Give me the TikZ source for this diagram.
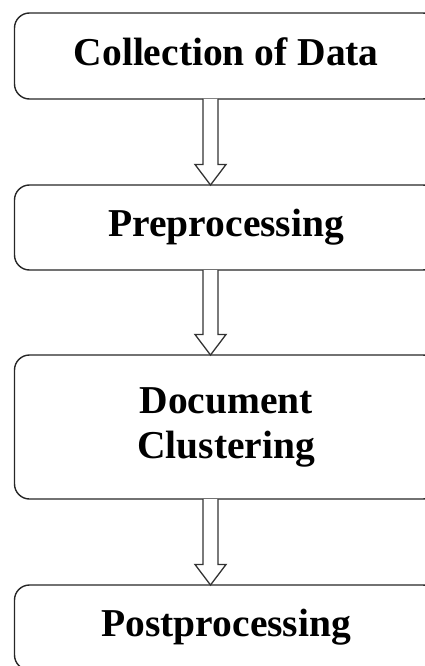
\documentclass[tikz,border=0pt]{standalone}
\usepackage{fontspec}
\setmainfont{Liberation Serif}
\usetikzlibrary{calc}
\tikzset{
  stagebox/.style={draw=black!85, line width=1.4pt, rounded corners=15pt,
    minimum width=423.5pt, inner sep=0pt, outer sep=0pt, align=center,
    font=\bfseries\fontsize{39.5}{45}\selectfont},
  arrowline/.style={draw=black!80, line width=1.3pt, fill=white, line join=miter}
}
\newcommand\hollowarrow[2]{%
  \draw[arrowline] let \p1=($(#1.south)+(-15.75,0)$), \p2=($(#2.north)+(-15.75,0)$) in
    ({\x1-7.5pt},{\y1}) -- ({\x1-7.5pt},{\y2+20.5pt}) -- ({\x1-15.5pt},{\y2+20.5pt}) --
    (\x1,\y2) -- ({\x1+15.5pt},{\y2+20.5pt}) -- ({\x1+7.5pt},{\y2+20.5pt}) -- ({\x1+7.5pt},{\y1});
}
\begin{document}
\begin{tikzpicture}[x=1pt,y=-1pt]
\useasboundingbox (0,0) rectangle (425,666);
\clip (0,0) rectangle (425,666);
\node[stagebox, minimum height=86pt, text depth=8pt] (b1) at (226.25,56) {Collection of Data};
\node[stagebox, minimum height=85pt] (b2) at (226.25,227.5) {Preprocessing};
\node[stagebox, minimum height=144pt] (b3) at (226.25,427) {Document\\Clustering};
\node[stagebox, minimum height=85pt] (b4) at (226.25,627.5) {Postprocessing};
\hollowarrow{b1}{b2}
\hollowarrow{b2}{b3}
\hollowarrow{b3}{b4}
\end{tikzpicture}
\end{document}
